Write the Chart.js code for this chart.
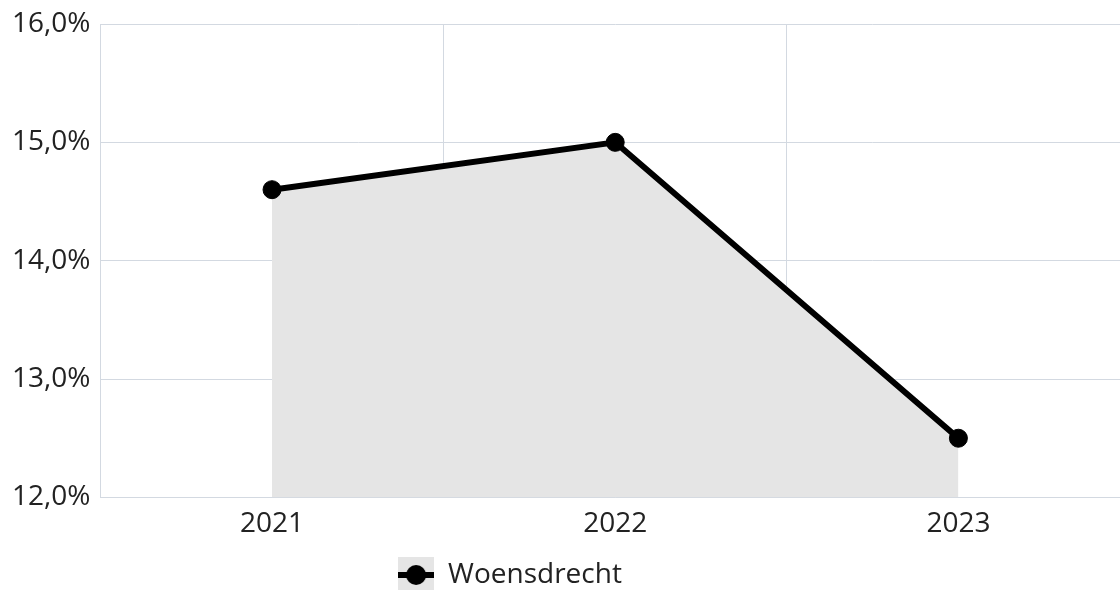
<!DOCTYPE html>
<html>
<head>
<meta charset="utf-8">
<script src="https://cdn.jsdelivr.net/npm/chart.js@4"></script>
<style>
  html, body { margin: 0; padding: 0; background: #fff; overflow: hidden; }
  #wrap { width: 1140px; height: 599px; }
</style>
</head>
<body>
<div id="wrap"><canvas id="grafiek"></canvas></div>
<script>
const jaren = ['2021', '2022', '2023'];
const waarden = [14.6, 15.0, 12.5];
const reeksNaam = 'Woensdrecht';

const lijnKleur = '#000000';
const vulKleur = '#e5e5e5';
const rasterKleur = '#d3d9e1';
const tekstKleur = '#222222';

Chart.defaults.font.family = '"Open Sans", "Noto Sans", sans-serif';
Chart.defaults.font.size = 28;
Chart.defaults.color = tekstKleur;

// legenda-icoon: grijs vlak met lijn en punt
function maakIcoon() {
  const c = document.createElement('canvas');
  c.width = 36; c.height = 36;
  const g = c.getContext('2d');
  g.fillStyle = vulKleur;
  g.fillRect(0, 0, 36, 36);
  g.strokeStyle = lijnKleur;
  g.lineWidth = 6;
  g.beginPath();
  g.moveTo(0, 18); g.lineTo(36, 18);
  g.stroke();
  g.fillStyle = lijnKleur;
  g.beginPath();
  g.arc(18, 18, 10, 0, Math.PI * 2);
  g.fill();
  return c;
}
const icoon = maakIcoon();

// legenda iets naar links, zoals in het origineel
const legendaPlek = {
  id: 'legendaPlek',
  afterLayout(chart) {
    const lg = chart.legend;
    if (!lg) return;
    lg.left = 0;
    lg.right = 1020;
  }
};

const ctx = document.getElementById('grafiek').getContext('2d');

new Chart(ctx, {
  type: 'line',
  data: {
    labels: jaren,
    datasets: [{
      label: reeksNaam,
      data: waarden,
      borderColor: lijnKleur,
      backgroundColor: vulKleur,
      borderWidth: 6,
      pointRadius: 9,
      pointHoverRadius: 9,
      pointBackgroundColor: lijnKleur,
      pointBorderColor: lijnKleur,
      pointBorderWidth: 1,
      fill: 'start',
      tension: 0
    }]
  },
  options: {
    responsive: true,
    maintainAspectRatio: false,
    animation: false,
    layout: { padding: { left: 2, top: 0, right: 0, bottom: 0 } },
    scales: {
      x: {
        offset: true,
        grid: { color: rasterKleur, offset: true, drawTicks: false },
        border: { color: rasterKleur },
        ticks: { padding: 10 }
      },
      y: {
        min: 12,
        max: 16,
        grid: { color: rasterKleur, drawTicks: false },
        border: { color: rasterKleur },
        ticks: {
          stepSize: 1,
          padding: 10,
          font: { lineHeight: 1 },
          callback: v => v.toFixed(1).replace('.', ',') + '%'
        }
      }
    },
    plugins: {
      legend: {
        position: 'bottom',
        labels: {
          usePointStyle: true,
          pointStyleWidth: 36,
          padding: 10,
          generateLabels: chart => chart.data.datasets.map((ds, i) => ({
            text: ds.label,
            pointStyle: icoon,
            fillStyle: vulKleur,
            strokeStyle: lijnKleur,
            lineWidth: 0,
            fontColor: tekstKleur,
            datasetIndex: i
          }))
        }
      },
      tooltip: { enabled: false }
    }
  },
  plugins: [legendaPlek]
});
</script>
</body>
</html>
